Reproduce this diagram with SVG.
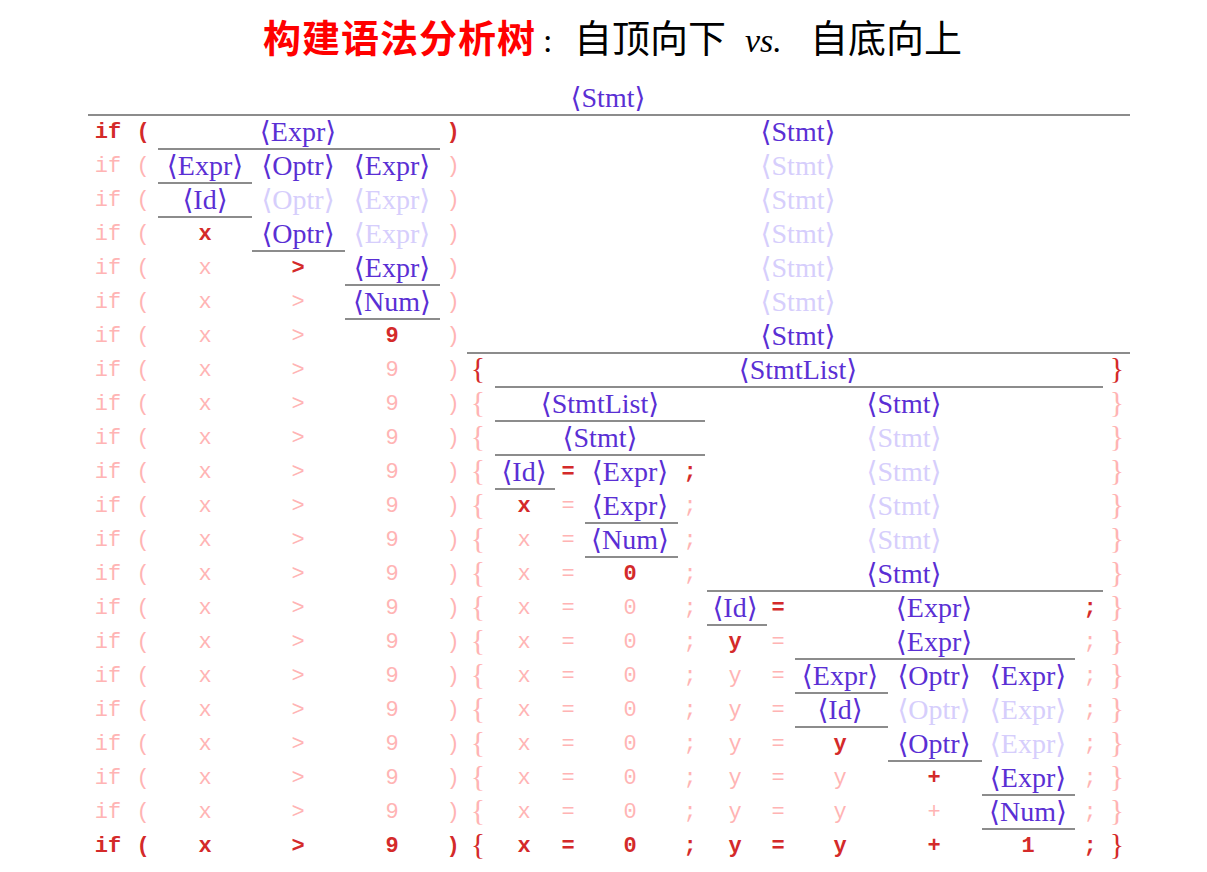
<svg xmlns="http://www.w3.org/2000/svg" width="1207" height="872" viewBox="0 0 1207 872">
<style>
text{text-anchor:middle}
.n{font-family:"Liberation Serif","DejaVu Serif",serif;font-size:28px;fill:#5a2fd4}
.nl{font-family:"Liberation Serif","DejaVu Serif",serif;font-size:28px;fill:#d6cefc}
.t{font-family:"Liberation Mono","DejaVu Sans Mono",monospace;font-size:22px;font-weight:bold;fill:#d42a2a}
.tl{font-family:"Liberation Mono","DejaVu Sans Mono",monospace;font-size:22px;fill:#ffb4b4}
.b{font-family:"Liberation Serif","DejaVu Serif",serif;font-size:30px;fill:#d42a2a}
.bl{font-family:"Liberation Serif","DejaVu Serif",serif;font-size:30px;fill:#ffb4b4}
#connectors line{stroke:#8c8c8c;stroke-width:2}
.cj{font-family:"Noto Sans CJK SC",sans-serif;font-size:38px;text-anchor:start}
</style>
<rect width="1207" height="872" fill="#fff"/>
<g id="title">
<text class="cj" x="263" y="52" fill="#ff0000" font-weight="bold" textLength="272">构建语法分析树</text>
<text x="543" y="52" style="font-family:'Liberation Serif',serif;font-size:34px;text-anchor:start">:</text>
<text class="cj" x="574" y="52" fill="#000">自顶向下</text>
<text x="745" y="52" style="font-family:'Liberation Serif',serif;font-size:34px;font-style:italic;text-anchor:start">vs.</text>
<text class="cj" x="810" y="52" fill="#000">自底向上</text>
</g>
<g id="connectors">
<line x1="88" y1="115" x2="1130" y2="115"/>
<line x1="158" y1="149" x2="440" y2="149"/>
<line x1="158" y1="183" x2="252" y2="183"/>
<line x1="158" y1="217" x2="252" y2="217"/>
<line x1="252" y1="251" x2="345" y2="251"/>
<line x1="345" y1="285" x2="440" y2="285"/>
<line x1="345" y1="319" x2="440" y2="319"/>
<line x1="467" y1="353" x2="1130" y2="353"/>
<line x1="495" y1="387" x2="1103" y2="387"/>
<line x1="495" y1="421" x2="705" y2="421"/>
<line x1="495" y1="455" x2="705" y2="455"/>
<line x1="495" y1="489" x2="555" y2="489"/>
<line x1="585" y1="523" x2="678" y2="523"/>
<line x1="585" y1="557" x2="678" y2="557"/>
<line x1="707" y1="591" x2="1103" y2="591"/>
<line x1="707" y1="625" x2="767" y2="625"/>
<line x1="795" y1="659" x2="1075" y2="659"/>
<line x1="795" y1="693" x2="888" y2="693"/>
<line x1="795" y1="727" x2="888" y2="727"/>
<line x1="888" y1="761" x2="982" y2="761"/>
<line x1="982" y1="795" x2="1075" y2="795"/>
<line x1="982" y1="829" x2="1075" y2="829"/>
</g>
<g id="row0"><text class="n" x="608" y="107">⟨Stmt⟩</text></g>
<g id="row1">
<text class="t" x="108" y="138">if</text><text class="t" x="143" y="138">(</text>
<text class="n" x="298" y="141">⟨Expr⟩</text>
<text class="t" x="453" y="138">)</text>
<text class="n" x="798" y="141">⟨Stmt⟩</text>
</g>
<g id="row2">
<text class="tl" x="108" y="172">if</text><text class="tl" x="143" y="172">(</text>
<text class="n" x="205" y="175">⟨Expr⟩</text><text class="n" x="298" y="175">⟨Optr⟩</text><text class="n" x="392" y="175">⟨Expr⟩</text>
<text class="tl" x="453" y="172">)</text>
<text class="nl" x="798" y="175">⟨Stmt⟩</text>
</g>
<g id="row3">
<text class="tl" x="108" y="206">if</text><text class="tl" x="143" y="206">(</text>
<text class="n" x="205" y="209">⟨Id⟩</text><text class="nl" x="298" y="209">⟨Optr⟩</text><text class="nl" x="392" y="209">⟨Expr⟩</text>
<text class="tl" x="453" y="206">)</text>
<text class="nl" x="798" y="209">⟨Stmt⟩</text>
</g>
<g id="row4">
<text class="tl" x="108" y="240">if</text><text class="tl" x="143" y="240">(</text>
<text class="t" x="205" y="240">x</text><text class="n" x="298" y="243">⟨Optr⟩</text><text class="nl" x="392" y="243">⟨Expr⟩</text>
<text class="tl" x="453" y="240">)</text>
<text class="nl" x="798" y="243">⟨Stmt⟩</text>
</g>
<g id="row5">
<text class="tl" x="108" y="274">if</text><text class="tl" x="143" y="274">(</text>
<text class="tl" x="205" y="274">x</text><text class="t" x="298" y="274">&gt;</text><text class="n" x="392" y="277">⟨Expr⟩</text>
<text class="tl" x="453" y="274">)</text>
<text class="nl" x="798" y="277">⟨Stmt⟩</text>
</g>
<g id="row6">
<text class="tl" x="108" y="308">if</text><text class="tl" x="143" y="308">(</text>
<text class="tl" x="205" y="308">x</text><text class="tl" x="298" y="308">&gt;</text><text class="n" x="392" y="311">⟨Num⟩</text>
<text class="tl" x="453" y="308">)</text>
<text class="nl" x="798" y="311">⟨Stmt⟩</text>
</g>
<g id="row7">
<text class="tl" x="108" y="342">if</text><text class="tl" x="143" y="342">(</text>
<text class="tl" x="205" y="342">x</text><text class="tl" x="298" y="342">&gt;</text><text class="t" x="392" y="342">9</text>
<text class="tl" x="453" y="342">)</text>
<text class="n" x="798" y="345">⟨Stmt⟩</text>
</g>
<g id="row8">
<text class="tl" x="108" y="376">if</text><text class="tl" x="143" y="376">(</text>
<text class="tl" x="205" y="376">x</text><text class="tl" x="298" y="376">&gt;</text><text class="tl" x="392" y="376">9</text>
<text class="tl" x="453" y="376">)</text>
<text class="b" x="478" y="378">{</text>
<text class="n" x="798" y="379">⟨StmtList⟩</text>
<text class="b" x="1117" y="378">}</text>
</g>
<g id="row9">
<text class="tl" x="108" y="410">if</text><text class="tl" x="143" y="410">(</text>
<text class="tl" x="205" y="410">x</text><text class="tl" x="298" y="410">&gt;</text><text class="tl" x="392" y="410">9</text>
<text class="tl" x="453" y="410">)</text>
<text class="bl" x="478" y="412">{</text>
<text class="n" x="600" y="413">⟨StmtList⟩</text><text class="n" x="904" y="413">⟨Stmt⟩</text>
<text class="bl" x="1117" y="412">}</text>
</g>
<g id="row10">
<text class="tl" x="108" y="444">if</text><text class="tl" x="143" y="444">(</text>
<text class="tl" x="205" y="444">x</text><text class="tl" x="298" y="444">&gt;</text><text class="tl" x="392" y="444">9</text>
<text class="tl" x="453" y="444">)</text>
<text class="bl" x="478" y="446">{</text>
<text class="n" x="600" y="447">⟨Stmt⟩</text><text class="nl" x="904" y="447">⟨Stmt⟩</text>
<text class="bl" x="1117" y="446">}</text>
</g>
<g id="row11">
<text class="tl" x="108" y="478">if</text><text class="tl" x="143" y="478">(</text>
<text class="tl" x="205" y="478">x</text><text class="tl" x="298" y="478">&gt;</text><text class="tl" x="392" y="478">9</text>
<text class="tl" x="453" y="478">)</text>
<text class="bl" x="478" y="480">{</text>
<text class="n" x="524" y="481">⟨Id⟩</text><text class="t" x="568" y="478">=</text><text class="n" x="630" y="481">⟨Expr⟩</text><text class="t" x="690" y="478">;</text>
<text class="nl" x="904" y="481">⟨Stmt⟩</text>
<text class="bl" x="1117" y="480">}</text>
</g>
<g id="row12">
<text class="tl" x="108" y="512">if</text><text class="tl" x="143" y="512">(</text>
<text class="tl" x="205" y="512">x</text><text class="tl" x="298" y="512">&gt;</text><text class="tl" x="392" y="512">9</text>
<text class="tl" x="453" y="512">)</text>
<text class="bl" x="478" y="514">{</text>
<text class="t" x="524" y="512">x</text><text class="tl" x="568" y="512">=</text><text class="n" x="630" y="515">⟨Expr⟩</text><text class="tl" x="690" y="512">;</text>
<text class="nl" x="904" y="515">⟨Stmt⟩</text>
<text class="bl" x="1117" y="514">}</text>
</g>
<g id="row13">
<text class="tl" x="108" y="546">if</text><text class="tl" x="143" y="546">(</text>
<text class="tl" x="205" y="546">x</text><text class="tl" x="298" y="546">&gt;</text><text class="tl" x="392" y="546">9</text>
<text class="tl" x="453" y="546">)</text>
<text class="bl" x="478" y="548">{</text>
<text class="tl" x="524" y="546">x</text><text class="tl" x="568" y="546">=</text><text class="n" x="630" y="549">⟨Num⟩</text><text class="tl" x="690" y="546">;</text>
<text class="nl" x="904" y="549">⟨Stmt⟩</text>
<text class="bl" x="1117" y="548">}</text>
</g>
<g id="row14">
<text class="tl" x="108" y="580">if</text><text class="tl" x="143" y="580">(</text>
<text class="tl" x="205" y="580">x</text><text class="tl" x="298" y="580">&gt;</text><text class="tl" x="392" y="580">9</text>
<text class="tl" x="453" y="580">)</text>
<text class="bl" x="478" y="582">{</text>
<text class="tl" x="524" y="580">x</text><text class="tl" x="568" y="580">=</text><text class="t" x="630" y="580">0</text><text class="tl" x="690" y="580">;</text>
<text class="n" x="904" y="583">⟨Stmt⟩</text>
<text class="bl" x="1117" y="582">}</text>
</g>
<g id="row15">
<text class="tl" x="108" y="614">if</text><text class="tl" x="143" y="614">(</text>
<text class="tl" x="205" y="614">x</text><text class="tl" x="298" y="614">&gt;</text><text class="tl" x="392" y="614">9</text>
<text class="tl" x="453" y="614">)</text>
<text class="bl" x="478" y="616">{</text>
<text class="tl" x="524" y="614">x</text><text class="tl" x="568" y="614">=</text><text class="tl" x="630" y="614">0</text><text class="tl" x="690" y="614">;</text>
<text class="n" x="735" y="617">⟨Id⟩</text><text class="t" x="778" y="614">=</text><text class="n" x="934" y="617">⟨Expr⟩</text><text class="t" x="1090" y="614">;</text>
<text class="bl" x="1117" y="616">}</text>
</g>
<g id="row16">
<text class="tl" x="108" y="648">if</text><text class="tl" x="143" y="648">(</text>
<text class="tl" x="205" y="648">x</text><text class="tl" x="298" y="648">&gt;</text><text class="tl" x="392" y="648">9</text>
<text class="tl" x="453" y="648">)</text>
<text class="bl" x="478" y="650">{</text>
<text class="tl" x="524" y="648">x</text><text class="tl" x="568" y="648">=</text><text class="tl" x="630" y="648">0</text><text class="tl" x="690" y="648">;</text>
<text class="t" x="735" y="648">y</text><text class="tl" x="778" y="648">=</text><text class="n" x="934" y="651">⟨Expr⟩</text><text class="tl" x="1090" y="648">;</text>
<text class="bl" x="1117" y="650">}</text>
</g>
<g id="row17">
<text class="tl" x="108" y="682">if</text><text class="tl" x="143" y="682">(</text>
<text class="tl" x="205" y="682">x</text><text class="tl" x="298" y="682">&gt;</text><text class="tl" x="392" y="682">9</text>
<text class="tl" x="453" y="682">)</text>
<text class="bl" x="478" y="684">{</text>
<text class="tl" x="524" y="682">x</text><text class="tl" x="568" y="682">=</text><text class="tl" x="630" y="682">0</text><text class="tl" x="690" y="682">;</text>
<text class="tl" x="735" y="682">y</text><text class="tl" x="778" y="682">=</text>
<text class="n" x="840" y="685">⟨Expr⟩</text><text class="n" x="934" y="685">⟨Optr⟩</text><text class="n" x="1028" y="685">⟨Expr⟩</text>
<text class="tl" x="1090" y="682">;</text>
<text class="bl" x="1117" y="684">}</text>
</g>
<g id="row18">
<text class="tl" x="108" y="716">if</text><text class="tl" x="143" y="716">(</text>
<text class="tl" x="205" y="716">x</text><text class="tl" x="298" y="716">&gt;</text><text class="tl" x="392" y="716">9</text>
<text class="tl" x="453" y="716">)</text>
<text class="bl" x="478" y="718">{</text>
<text class="tl" x="524" y="716">x</text><text class="tl" x="568" y="716">=</text><text class="tl" x="630" y="716">0</text><text class="tl" x="690" y="716">;</text>
<text class="tl" x="735" y="716">y</text><text class="tl" x="778" y="716">=</text>
<text class="n" x="840" y="719">⟨Id⟩</text><text class="nl" x="934" y="719">⟨Optr⟩</text><text class="nl" x="1028" y="719">⟨Expr⟩</text>
<text class="tl" x="1090" y="716">;</text>
<text class="bl" x="1117" y="718">}</text>
</g>
<g id="row19">
<text class="tl" x="108" y="750">if</text><text class="tl" x="143" y="750">(</text>
<text class="tl" x="205" y="750">x</text><text class="tl" x="298" y="750">&gt;</text><text class="tl" x="392" y="750">9</text>
<text class="tl" x="453" y="750">)</text>
<text class="bl" x="478" y="752">{</text>
<text class="tl" x="524" y="750">x</text><text class="tl" x="568" y="750">=</text><text class="tl" x="630" y="750">0</text><text class="tl" x="690" y="750">;</text>
<text class="tl" x="735" y="750">y</text><text class="tl" x="778" y="750">=</text>
<text class="t" x="840" y="750">y</text><text class="n" x="934" y="753">⟨Optr⟩</text><text class="nl" x="1028" y="753">⟨Expr⟩</text>
<text class="tl" x="1090" y="750">;</text>
<text class="bl" x="1117" y="752">}</text>
</g>
<g id="row20">
<text class="tl" x="108" y="784">if</text><text class="tl" x="143" y="784">(</text>
<text class="tl" x="205" y="784">x</text><text class="tl" x="298" y="784">&gt;</text><text class="tl" x="392" y="784">9</text>
<text class="tl" x="453" y="784">)</text>
<text class="bl" x="478" y="786">{</text>
<text class="tl" x="524" y="784">x</text><text class="tl" x="568" y="784">=</text><text class="tl" x="630" y="784">0</text><text class="tl" x="690" y="784">;</text>
<text class="tl" x="735" y="784">y</text><text class="tl" x="778" y="784">=</text>
<text class="tl" x="840" y="784">y</text><text class="t" x="934" y="784">+</text><text class="n" x="1028" y="787">⟨Expr⟩</text>
<text class="tl" x="1090" y="784">;</text>
<text class="bl" x="1117" y="786">}</text>
</g>
<g id="row21">
<text class="tl" x="108" y="818">if</text><text class="tl" x="143" y="818">(</text>
<text class="tl" x="205" y="818">x</text><text class="tl" x="298" y="818">&gt;</text><text class="tl" x="392" y="818">9</text>
<text class="tl" x="453" y="818">)</text>
<text class="bl" x="478" y="820">{</text>
<text class="tl" x="524" y="818">x</text><text class="tl" x="568" y="818">=</text><text class="tl" x="630" y="818">0</text><text class="tl" x="690" y="818">;</text>
<text class="tl" x="735" y="818">y</text><text class="tl" x="778" y="818">=</text>
<text class="tl" x="840" y="818">y</text><text class="tl" x="934" y="818">+</text><text class="n" x="1028" y="821">⟨Num⟩</text>
<text class="tl" x="1090" y="818">;</text>
<text class="bl" x="1117" y="820">}</text>
</g>
<g id="row22">
<text class="t" x="108" y="852">if</text><text class="t" x="143" y="852">(</text>
<text class="t" x="205" y="852">x</text><text class="t" x="298" y="852">&gt;</text><text class="t" x="392" y="852">9</text>
<text class="t" x="453" y="852">)</text>
<text class="b" x="478" y="854">{</text>
<text class="t" x="524" y="852">x</text><text class="t" x="568" y="852">=</text><text class="t" x="630" y="852">0</text><text class="t" x="690" y="852">;</text>
<text class="t" x="735" y="852">y</text><text class="t" x="778" y="852">=</text>
<text class="t" x="840" y="852">y</text><text class="t" x="934" y="852">+</text><text class="t" x="1028" y="852">1</text>
<text class="t" x="1090" y="852">;</text>
<text class="b" x="1117" y="854">}</text>
</g>
</svg>
